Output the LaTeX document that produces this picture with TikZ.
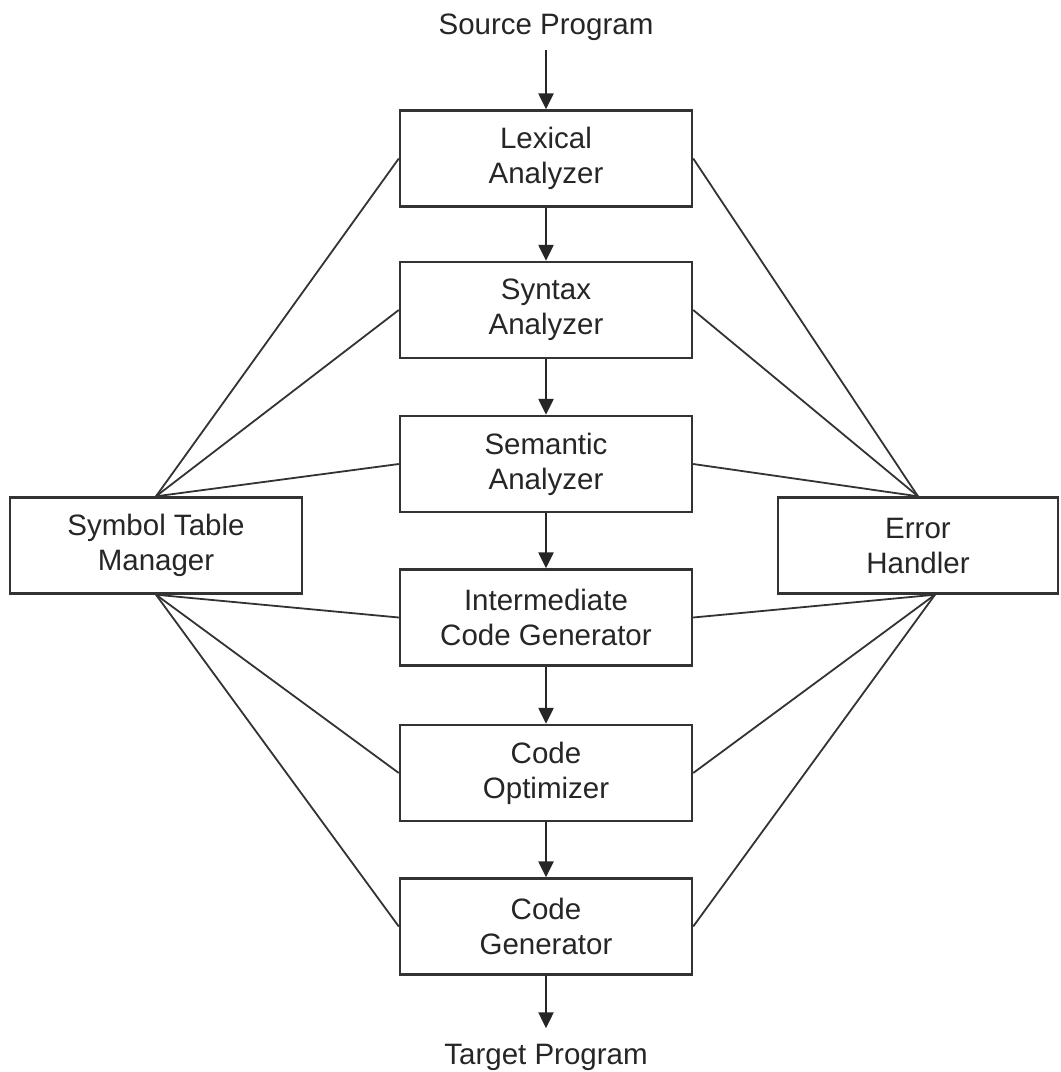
\documentclass[tikz,border=0pt]{standalone}
\usepackage{fontspec}
\setmainfont{Liberation Sans}
\usetikzlibrary{arrows.meta}
\begin{document}
\begin{tikzpicture}[x=1pt,y=-1pt,
  txt/.style={font=\fontsize{29.5}{35}\selectfont, text=black!85, align=center},
  phase/.style={txt, draw=black!80, line width=2.4pt, minimum width=292pt, minimum height=96pt, inner sep=0pt},
  side/.style={txt, draw=black!80, line width=2.4pt, minimum height=96pt, inner sep=0pt},
  flow/.style={line width=2.4pt, draw=black!85, -{Triangle[length=16pt,width=15pt]}},
  link/.style={line width=1.8pt, draw=black!80}]
\useasboundingbox[fill=white] (0,0) rectangle (1061,1072);

\node[txt] (src) at (546,27) {Source Program};
\node[phase] (lex) at (546,158.5) {Lexical\\Analyzer};
\node[phase] (syn) at (546,310) {Syntax\\Analyzer};
\node[phase] (sem) at (546,464) {Semantic\\Analyzer};
\node[phase] (icg) at (546,617.5) {Intermediate\\Code Generator};
\node[phase] (opt) at (546,773) {Code\\Optimizer};
\node[phase] (gen) at (546,926.5) {Code\\Generator};
\node[txt] (tgt) at (546,1057) {Target Program};

\node[side, minimum width=292pt] (sym) at (156,545.5) {Symbol Table\\Manager};
\node[side, minimum width=280pt] (err) at (918,545.5) {Error\\Handler};

\coordinate (symT) at (sym.north);
\coordinate (symB) at (sym.south);
\coordinate (errT) at (err.north);
\coordinate (errB) at ([xshift=17pt]err.south);

\draw[flow, shorten <=6pt] (src.south) -- (lex.north);
\draw[flow] (lex) -- (syn);
\draw[flow] (syn) -- (sem);
\draw[flow] (sem) -- (icg);
\draw[flow] (icg) -- (opt);
\draw[flow] (opt) -- (gen);
\draw[flow, shorten >=12pt] (gen.south) -- (tgt.north);

\foreach \b in {lex,syn,sem} {
  \draw[link] (symT) -- (\b.west);
  \draw[link] (errT) -- (\b.east);
}
\foreach \b in {icg,opt,gen} {
  \draw[link] (symB) -- (\b.west);
  \draw[link] (errB) -- (\b.east);
}
\end{tikzpicture}
\end{document}
